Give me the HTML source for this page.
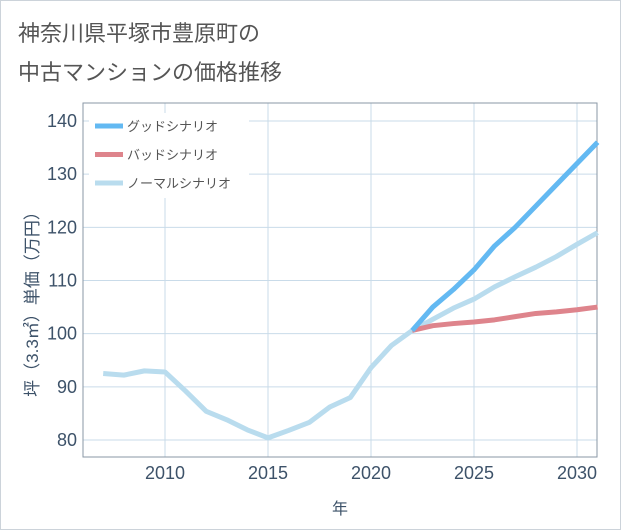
<!DOCTYPE html>
<html><head><meta charset="utf-8"><style>
body{margin:0;background:#fff;font-family:"Liberation Sans","Noto Sans CJK JP",sans-serif;}
#wrap{position:relative;width:619px;height:528px;border:1px solid #ccd3da;background:#fff;}
.t{position:absolute;left:17px;color:#555;font-size:22px;}
</style></head><body>
<div id="wrap">
<div class="t" style="top:15px">神奈川県平塚市豊原町の</div>
<div class="t" style="top:54px">中古マンションの価格推移</div>
<svg id="chart" width="621" height="530" style="position:absolute;left:-1px;top:-1px"></svg>
</div>
<script>
const years=[2007,2008,2009,2010,2011,2012,2013,2014,2015,2016,2017,2018,2019,2020,2021,2022,2023,2024,2025,2026,2027,2028,2029,2030,2031];
const normalVals=[92.5,92.2,93,92.8,89.2,85.4,83.8,81.9,80.4,81.8,83.3,86.2,88,93.6,97.8,100.6,102.7,104.8,106.5,108.8,110.7,112.5,114.5,116.8,119];
const goodYears=[2022,2023,2024,2025,2026,2027,2028,2029,2030,2031];
const goodVals=[100.6,105,108.3,112,116.5,120,124,128,132,136];
const badYears=[2022,2023,2024,2025,2026,2027,2028,2029,2030,2031];
const badVals=[100.6,101.5,101.9,102.2,102.6,103.2,103.8,104.1,104.5,105];
const xTicks=[2010,2015,2020,2025,2030];
const yTicks=[80,90,100,110,120,130,140];
const NS="http://www.w3.org/2000/svg";
const svg=document.getElementById('chart');
const L=83,R=597,T=103,B=457;
const x=v=>165+(v-2010)*20.6;
const y=v=>440-(v-80)*5.317;
function mk(t,a){const e=document.createElementNS(NS,t);for(const k in a)e.setAttribute(k,a[k]);svg.appendChild(e);return e;}
xTicks.forEach(v=>{const l=mk('line',{x1:x(v),x2:x(v),y1:T,y2:B,stroke:'#c9dbe9','stroke-width':1});


const t=mk('text',{x:x(v),y:479,'text-anchor':'middle','font-size':18,fill:'#3d5269'});t.textContent=v;

});
yTicks.forEach(v=>{const l=mk('line',{x1:L,x2:R,y1:y(v),y2:y(v),stroke:'#c9dbe9','stroke-width':1});


const t=mk('text',{x:77,y:y(v)+6,'text-anchor':'end','font-size':18,fill:'#3d5269'});t.textContent=v;

});
const fr=mk('rect',{x:L,y:T,width:R-L,height:B-T,fill:'none',stroke:'#8a97a5','stroke-width':1});


function line(xs,vs,c,name){const p=mk('polyline',{points:xs.map((v,i)=>x(v)+','+y(vs[i])).join(' '),fill:'none',stroke:c,'stroke-width':5,'stroke-linejoin':'round'});

}
line(years,normalVals,'#b9dcee','normal-scenario-line');
line(badYears,badVals,'#de848c','bad-scenario-line');
line(goodYears,goodVals,'#63b9f2','good-scenario-line');
const lg=mk('rect',{x:89,y:113,width:160,height:85,fill:'#fff'});


[['グッドシナリオ','#63b9f2'],['バッドシナリオ','#de848c'],['ノーマルシナリオ','#b9dcee']].forEach((d,i)=>{
const yy=126+i*28.5;
const s=mk('line',{x1:95,x2:123,y1:yy,y2:yy,stroke:d[1],'stroke-width':5});


const t=mk('text',{x:127,y:yy+5,'font-size':13,fill:'#555'});t.textContent=d[0];

});
const xt=mk('text',{x:340,y:514,'text-anchor':'middle','font-size':16,fill:'#3d5269'});xt.textContent='年';


const yt=mk('text',{x:0,y:0,'text-anchor':'middle','font-size':17,fill:'#3d5269',transform:'translate(38,300) rotate(-90)'});yt.textContent='坪（3.3㎡）単価（万円）';


</script>
</body></html>
